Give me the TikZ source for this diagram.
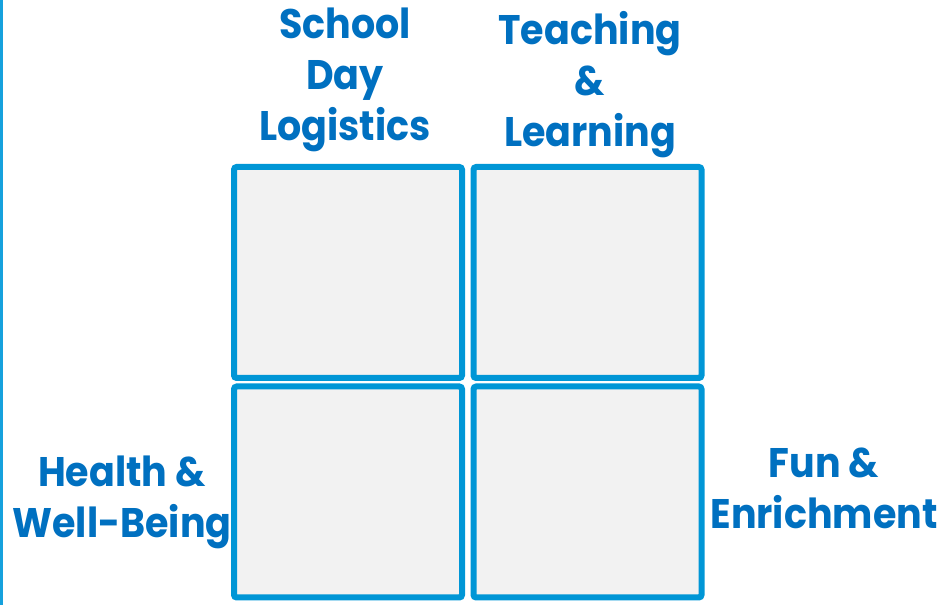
\documentclass[tikz,border=0pt]{standalone}
\usepackage{fontspec}
\setmainfont{Poppins}
\newfontfamily\labfont[FakeStretch=0.92]{Poppins}
\usetikzlibrary{shadows}
\definecolor{quadline}{HTML}{0096D6}
\definecolor{quadfill}{HTML}{F2F2F2}
\definecolor{labtext}{HTML}{0070C0}
\definecolor{edgeline}{HTML}{15A1DD}
\tikzset{
	quad/.style={draw=quadline, fill=quadfill, line width=4.5pt, rounded corners=2pt,
		minimum width=171pt, minimum height=158.25pt, inner sep=0pt,
		drop shadow={opacity=0.25, shadow xshift=1pt, shadow yshift=-1pt}},
	lab/.style={text=labtext, font=\labfont\bfseries\fontsize{31}{38.25}\selectfont, align=center, inner sep=0pt}
}
\begin{document}
\begin{tikzpicture}[x=0.75pt, y=-0.75pt]
			\useasboundingbox (0,0) rectangle (947,605);
			\draw[edgeline, line width=2.2pt] (1.5,0) -- (1.5,605);
			% the four quadrants
			\node[quad] (q-1-1) at (348,272.5) {};
			\node[quad] (q-1-2) at (587.5,272.5) {};
			\node[quad] (q-2-1) at (348,492) {};
			\node[quad] (q-2-2) at (587.5,492) {};
			% labels
			\node[lab, anchor=north] (sdl) at (345,8) {School\\Day\\Logistics};
			\node[lab, anchor=north] (tl) at (590,11) {Teaching\\\&\\Learning};
			\node[lab, anchor=north] (hw) at (122,456) {Health \&\\Well-Being};
			\node[lab, anchor=north] (fe) at (824,448) {Fun \&\\Enrichment};
		\end{tikzpicture}
\end{document}
